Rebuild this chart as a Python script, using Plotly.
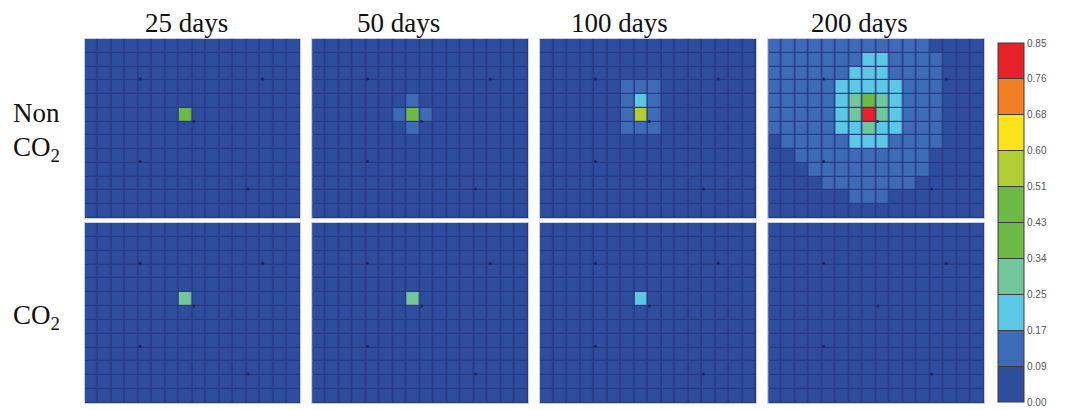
import plotly.graph_objects as go

# ---------------- data ----------------
days = ["25 days", "50 days", "100 days", "200 days"]
rows = ["Non CO2", "CO2"]

bin_edges = [0.0, 0.085, 0.17, 0.255, 0.34, 0.425, 0.51, 0.595, 0.68, 0.765, 0.85]
tick_labels = ["0.00", "0.09", "0.17", "0.25", "0.34", "0.43", "0.51", "0.60", "0.68", "0.76", "0.85"]
bin_colors = ["#2F4D9D", "#3E6BB5", "#5CC8E6", "#73C69B", "#6CB946",
              "#6CB946", "#B3CD37", "#FBE41B", "#F07E22", "#E6212A"]

# saturation grids (13 rows x 16 columns), row 0 = top
non_25 = [
    [0.04]*16,
    [0.04]*16,
    [0.04]*16,
    [0.04]*16,
    [0.04]*16,
    [0.04, 0.04, 0.04, 0.04, 0.04, 0.04, 0.04, 0.45, 0.04, 0.04, 0.04, 0.04, 0.04, 0.04, 0.04, 0.04],
    [0.04]*16,
    [0.04]*16,
    [0.04]*16,
    [0.04]*16,
    [0.04]*16,
    [0.04]*16,
    [0.04]*16,
]
non_50 = [
    [0.04]*16,
    [0.04]*16,
    [0.04]*16,
    [0.04]*16,
    [0.04, 0.04, 0.04, 0.04, 0.04, 0.04, 0.04, 0.13, 0.04, 0.04, 0.04, 0.04, 0.04, 0.04, 0.04, 0.04],
    [0.04, 0.04, 0.04, 0.04, 0.04, 0.04, 0.13, 0.45, 0.13, 0.04, 0.04, 0.04, 0.04, 0.04, 0.04, 0.04],
    [0.04, 0.04, 0.04, 0.04, 0.04, 0.04, 0.04, 0.13, 0.04, 0.04, 0.04, 0.04, 0.04, 0.04, 0.04, 0.04],
    [0.04]*16,
    [0.04]*16,
    [0.04]*16,
    [0.04]*16,
    [0.04]*16,
    [0.04]*16,
]
non_100 = [
    [0.04]*16,
    [0.04]*16,
    [0.04]*16,
    [0.04, 0.04, 0.04, 0.04, 0.04, 0.04, 0.13, 0.13, 0.13, 0.04, 0.04, 0.04, 0.04, 0.04, 0.04, 0.04],
    [0.04, 0.04, 0.04, 0.04, 0.04, 0.04, 0.13, 0.21, 0.13, 0.04, 0.04, 0.04, 0.04, 0.04, 0.04, 0.04],
    [0.04, 0.04, 0.04, 0.04, 0.04, 0.04, 0.13, 0.55, 0.13, 0.04, 0.04, 0.04, 0.04, 0.04, 0.04, 0.04],
    [0.04, 0.04, 0.04, 0.04, 0.04, 0.04, 0.13, 0.13, 0.13, 0.04, 0.04, 0.04, 0.04, 0.04, 0.04, 0.04],
    [0.04]*16,
    [0.04]*16,
    [0.04]*16,
    [0.04]*16,
    [0.04]*16,
    [0.04]*16,
]
non_200 = [
    [0.13, 0.13, 0.13, 0.13, 0.13, 0.13, 0.13, 0.13, 0.13, 0.13, 0.13, 0.13, 0.04, 0.04, 0.04, 0.04],
    [0.13, 0.13, 0.13, 0.13, 0.13, 0.13, 0.13, 0.21, 0.21, 0.13, 0.13, 0.13, 0.13, 0.04, 0.04, 0.04],
    [0.13, 0.13, 0.13, 0.13, 0.13, 0.13, 0.21, 0.21, 0.21, 0.13, 0.13, 0.13, 0.13, 0.04, 0.04, 0.04],
    [0.13, 0.13, 0.13, 0.13, 0.13, 0.21, 0.21, 0.21, 0.21, 0.21, 0.13, 0.13, 0.13, 0.04, 0.04, 0.04],
    [0.13, 0.13, 0.13, 0.13, 0.13, 0.21, 0.30, 0.45, 0.30, 0.21, 0.13, 0.13, 0.13, 0.04, 0.04, 0.04],
    [0.13, 0.13, 0.13, 0.13, 0.13, 0.21, 0.30, 0.80, 0.30, 0.21, 0.13, 0.13, 0.13, 0.04, 0.04, 0.04],
    [0.13, 0.13, 0.13, 0.13, 0.13, 0.21, 0.21, 0.30, 0.21, 0.21, 0.13, 0.13, 0.13, 0.04, 0.04, 0.04],
    [0.04, 0.13, 0.13, 0.13, 0.13, 0.13, 0.21, 0.21, 0.21, 0.13, 0.13, 0.13, 0.13, 0.04, 0.04, 0.04],
    [0.04, 0.04, 0.13, 0.13, 0.13, 0.13, 0.13, 0.13, 0.13, 0.13, 0.13, 0.13, 0.04, 0.04, 0.04, 0.04],
    [0.04, 0.04, 0.04, 0.13, 0.13, 0.13, 0.13, 0.13, 0.13, 0.13, 0.13, 0.13, 0.04, 0.04, 0.04, 0.04],
    [0.04, 0.04, 0.04, 0.04, 0.13, 0.13, 0.13, 0.13, 0.13, 0.13, 0.13, 0.04, 0.04, 0.04, 0.04, 0.04],
    [0.04, 0.04, 0.04, 0.04, 0.04, 0.04, 0.13, 0.13, 0.13, 0.04, 0.04, 0.04, 0.04, 0.04, 0.04, 0.04],
    [0.04]*16,
]
co2_25 = [
    [0.04]*16,
    [0.04]*16,
    [0.04]*16,
    [0.04]*16,
    [0.04]*16,
    [0.04, 0.04, 0.04, 0.04, 0.04, 0.04, 0.04, 0.30, 0.04, 0.04, 0.04, 0.04, 0.04, 0.04, 0.04, 0.04],
    [0.04]*16,
    [0.04]*16,
    [0.04]*16,
    [0.04]*16,
    [0.04]*16,
    [0.04]*16,
    [0.04]*16,
]
co2_50 = [
    [0.04]*16,
    [0.04]*16,
    [0.04]*16,
    [0.04]*16,
    [0.04]*16,
    [0.04, 0.04, 0.04, 0.04, 0.04, 0.04, 0.04, 0.30, 0.04, 0.04, 0.04, 0.04, 0.04, 0.04, 0.04, 0.04],
    [0.04]*16,
    [0.04]*16,
    [0.04]*16,
    [0.04]*16,
    [0.04]*16,
    [0.04]*16,
    [0.04]*16,
]
co2_100 = [
    [0.04]*16,
    [0.04]*16,
    [0.04]*16,
    [0.04]*16,
    [0.04]*16,
    [0.04, 0.04, 0.04, 0.04, 0.04, 0.04, 0.04, 0.21, 0.04, 0.04, 0.04, 0.04, 0.04, 0.04, 0.04, 0.04],
    [0.04]*16,
    [0.04]*16,
    [0.04]*16,
    [0.04]*16,
    [0.04]*16,
    [0.04]*16,
    [0.04]*16,
]
co2_200 = [[0.04]*16 for _ in range(13)]

grids = [[non_25, non_50, non_100, non_200],
         [co2_25, co2_50, co2_100, co2_200]]

# well locations (grid column, grid row)
well_x = [3.6, 12.7, 7.6, 3.6, 11.6]
well_y = [2.4, 2.4, 5.5, 8.4, 10.4]

# ---------------- layout helpers ----------------
W, H = 1074, 410
col_px = [(86, 305), (317, 536), (548, 767.5), (780, 999)]
row_px = [(39, 218), (223, 403)]
title_cx = [189, 405, 629, 872]

zmax = bin_edges[-1]
colorscale = []
for i, c in enumerate(bin_colors):
    colorscale.append([i / len(bin_colors), c])
    colorscale.append([(i + 1) / len(bin_colors), c])

fig = go.Figure()
layout_axes = {}
k = 0
for r in range(2):
    for c in range(4):
        k += 1
        xa = "x" if k == 1 else f"x{k}"
        ya = "y" if k == 1 else f"y{k}"
        fig.add_trace(go.Heatmap(
            z=grids[r][c], coloraxis="coloraxis",
            xgap=1.5, ygap=1.2, xaxis=xa, yaxis=ya, hoverinfo="skip"))
        fig.add_trace(go.Scatter(
            x=well_x, y=well_y, mode="markers", xaxis=xa, yaxis=ya,
            marker=dict(size=3, color="#1B2358"), showlegend=False, hoverinfo="skip"))
        x0, x1 = col_px[c]
        y0, y1 = row_px[r]
        axkw = dict(showgrid=False, zeroline=False, showticklabels=False, ticks="",
                    showline=True, mirror=True, linecolor="#C9CCE3", linewidth=1)
        layout_axes["xaxis" if k == 1 else f"xaxis{k}"] = dict(
            domain=[x0 / W, x1 / W], range=[-0.5, 15.5], anchor=ya, **axkw)
        layout_axes["yaxis" if k == 1 else f"yaxis{k}"] = dict(
            domain=[1 - y1 / H, 1 - y0 / H], range=[12.5, -0.5], anchor=xa, **axkw)

fig.update_layout(**layout_axes)

fig.update_layout(
    width=W, height=H,
    margin=dict(l=0, r=0, t=0, b=0),
    paper_bgcolor="white",
    plot_bgcolor="#283A86",
    showlegend=False,
    coloraxis=dict(
        cmin=0, cmax=zmax, colorscale=colorscale,
        colorbar=dict(
            x=1013 / W, xanchor="left", y=1 - 43 / H, yanchor="top",
            len=(402 - 43) / H, lenmode="fraction",
            thickness=26, thicknessmode="pixels",
            xpad=0, ypad=0,
            outlinewidth=1, outlinecolor="#3A3A3A",
            tickmode="array", tickvals=bin_edges, ticktext=tick_labels,
            ticks="inside", ticklen=26, tickwidth=1, tickcolor="#3A3A3A",
            tickfont=dict(family="Liberation Sans, Arial", size=10, color="#555555"),
        ),
    ),
)

serif = "Liberation Serif, Times New Roman, serif"
for i, d in enumerate(days):
    fig.add_annotation(text=d, x=title_cx[i] / W, y=1 - 23 / H, xref="paper", yref="paper",
                       xanchor="center", yanchor="middle", showarrow=False,
                       font=dict(family=serif, size=27, color="#111111"))

fig.add_annotation(text="Non", x=11 / W, y=1 - 113 / H, xref="paper", yref="paper",
                   xanchor="left", yanchor="middle", showarrow=False,
                   font=dict(family=serif, size=27, color="#111111"))
fig.add_annotation(text="CO<sub>2</sub>", x=11 / W, y=1 - 149 / H, xref="paper", yref="paper",
                   xanchor="left", yanchor="middle", showarrow=False,
                   font=dict(family=serif, size=27, color="#111111"))
fig.add_annotation(text="CO<sub>2</sub>", x=11 / W, y=1 - 317 / H, xref="paper", yref="paper",
                   xanchor="left", yanchor="middle", showarrow=False,
                   font=dict(family=serif, size=27, color="#111111"))

fig.write_html("out.html")
